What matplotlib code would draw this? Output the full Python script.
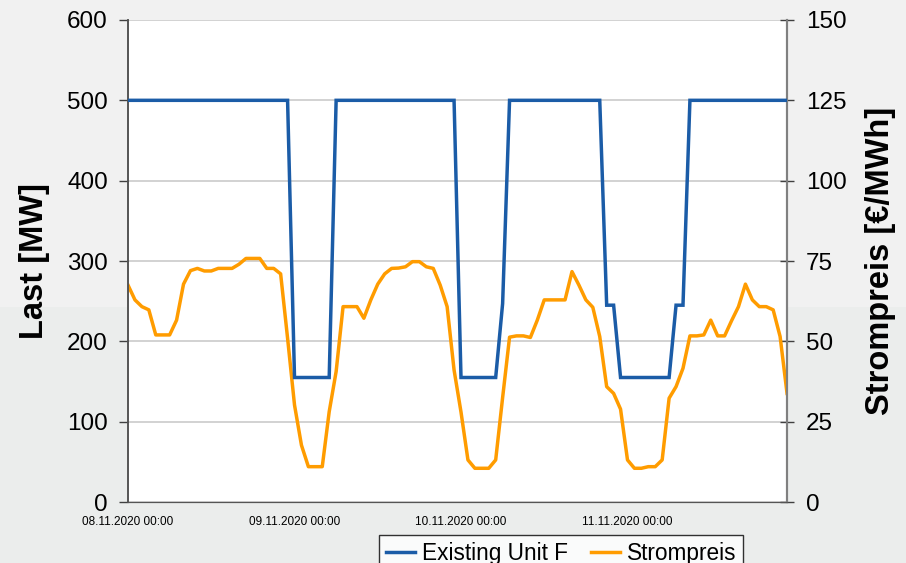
import numpy as np
import matplotlib.pyplot as plt
from matplotlib.patches import Rectangle

plt.rcParams['font.family'] = ['Liberation Sans', 'DejaVu Sans']

# hourly values, 08.11.2020 00:00 .. 11.11.2020 23:00
hours = np.arange(96)

last_mw = [
    500, 500, 500, 500, 500, 500, 500, 500, 500, 500, 500, 500,
    500, 500, 500, 500, 500, 500, 500, 500, 500, 500, 500, 500,
    155, 155, 155, 155, 155, 155, 500, 500, 500, 500, 500, 500,
    500, 500, 500, 500, 500, 500, 500, 500, 500, 500, 500, 500,
    155, 155, 155, 155, 155, 155, 247, 500, 500, 500, 500, 500,
    500, 500, 500, 500, 500, 500, 500, 500, 500, 245, 245, 155,
    155, 155, 155, 155, 155, 155, 155, 245, 245, 500, 500, 500,
    500, 500, 500, 500, 500, 500, 500, 500, 500, 500, 500, 500,
]

strompreis = [
    67.5, 62.9, 60.8, 59.8, 52.0, 52.0, 52.0, 56.6, 67.8, 72.0, 72.7, 71.9,
    71.9, 72.7, 72.7, 72.7, 74.0, 75.8, 75.8, 75.8, 72.7, 72.7, 71.0, 51.0,
    30.2, 17.7, 11.0, 11.0, 11.0, 28.1, 40.6, 60.8, 60.8, 60.8, 57.2, 62.9,
    67.8, 71.0, 72.7, 72.8, 73.2, 74.8, 74.8, 73.2, 72.7, 67.5, 60.8, 41.1,
    28.0, 13.1, 10.5, 10.5, 10.5, 13.1, 32.5, 51.3, 51.7, 51.7, 51.2, 56.6,
    62.9, 62.9, 62.9, 62.9, 71.7, 67.5, 62.9, 60.6, 51.5, 35.9, 33.8, 28.9,
    13.1, 10.5, 10.5, 11.0, 11.0, 13.1, 32.3, 35.9, 41.6, 51.7, 51.7, 52.0,
    56.6, 51.7, 51.7, 56.4, 60.8, 67.8, 62.9, 60.8, 60.8, 59.8, 51.5, 33.8,
]

tick_hours = [0, 24, 48, 72]
tick_labels = ['08.11.2020 00:00', '09.11.2020 00:00',
               '10.11.2020 00:00', '11.11.2020 00:00']

blue = '#1b5ca7'
orange = '#ff9c00'

fig = plt.figure(figsize=(9.06, 5.63), dpi=100)
fig.patch.set_facecolor('#f1f1f1')
# slightly darker lower band of the background
fig.patches.append(Rectangle((0, 0), 1, 0.455, transform=fig.transFigure,
                             facecolor='#ebedec', edgecolor='none', zorder=-10))

ax = fig.add_axes([0.1413, 0.1083, 0.7274, 0.8562])
ax2 = ax.twinx()

l1, = ax.plot(hours, last_mw, color=blue, lw=2.5, label='Existing Unit F',
              solid_joinstyle='miter', zorder=3)
l2, = ax2.plot(hours, strompreis, color=orange, lw=2.5, label='Strompreis',
               solid_joinstyle='round', zorder=2)
# keep blue line above the orange one, white background from the twin
ax.set_zorder(ax2.get_zorder() + 1)
ax.patch.set_visible(False)
ax2.patch.set_visible(True)
ax2.patch.set_facecolor('white')

ax.set_xlim(0, 95)
ax.set_ylim(0, 600)
ax2.set_ylim(0, 150)
ax.set_yticks(np.arange(0, 601, 100))
ax2.set_yticks(np.arange(0, 151, 25))
ax.set_xticks(tick_hours)
ax.set_xticklabels(tick_labels)

ax2.grid(axis='y', color='#cfcfcf', lw=1.3)
ax2.set_axisbelow(True)

ax.tick_params(axis='x', length=0, pad=10, labelsize=8.5)
ax.tick_params(axis='y', direction='out', length=6.5, width=1, color='#404040',
               pad=8, labelsize=17.5)
ax2.tick_params(axis='y', direction='inout', length=9.5, width=1, color='#404040',
                pad=9, labelsize=17.5)

for a in (ax, ax2):
    a.spines['top'].set_visible(False)
    a.spines['left'].set_color('#555555')
    a.spines['right'].set_color('#808080')
    a.spines['bottom'].set_color('#555555')
    a.spines['left'].set_linewidth(1.2)
    a.spines['right'].set_linewidth(1.5)

ax.set_ylabel('Last [MW]', fontsize=23.5, fontweight='bold')
ax.yaxis.set_label_coords(-0.118, 0.5)
ax2.set_ylabel('Strompreis [€/MWh]', fontsize=23.5, fontweight='bold')
ax2.yaxis.set_label_coords(1.118, 0.5)

leg = fig.legend(handles=[l1, l2], loc='upper center',
                 bbox_to_anchor=(561 / 906, 1 - 535 / 563), ncol=2,
                 fontsize=16.3, frameon=True, fancybox=False, edgecolor='black',
                 handlelength=1.3, handletextpad=0.3, columnspacing=1.0,
                 borderpad=0.3, borderaxespad=0)
leg.get_frame().set_linewidth(1.0)
leg.get_frame().set_facecolor('white')

fig.savefig('out.png', dpi=100, facecolor=fig.get_facecolor())
